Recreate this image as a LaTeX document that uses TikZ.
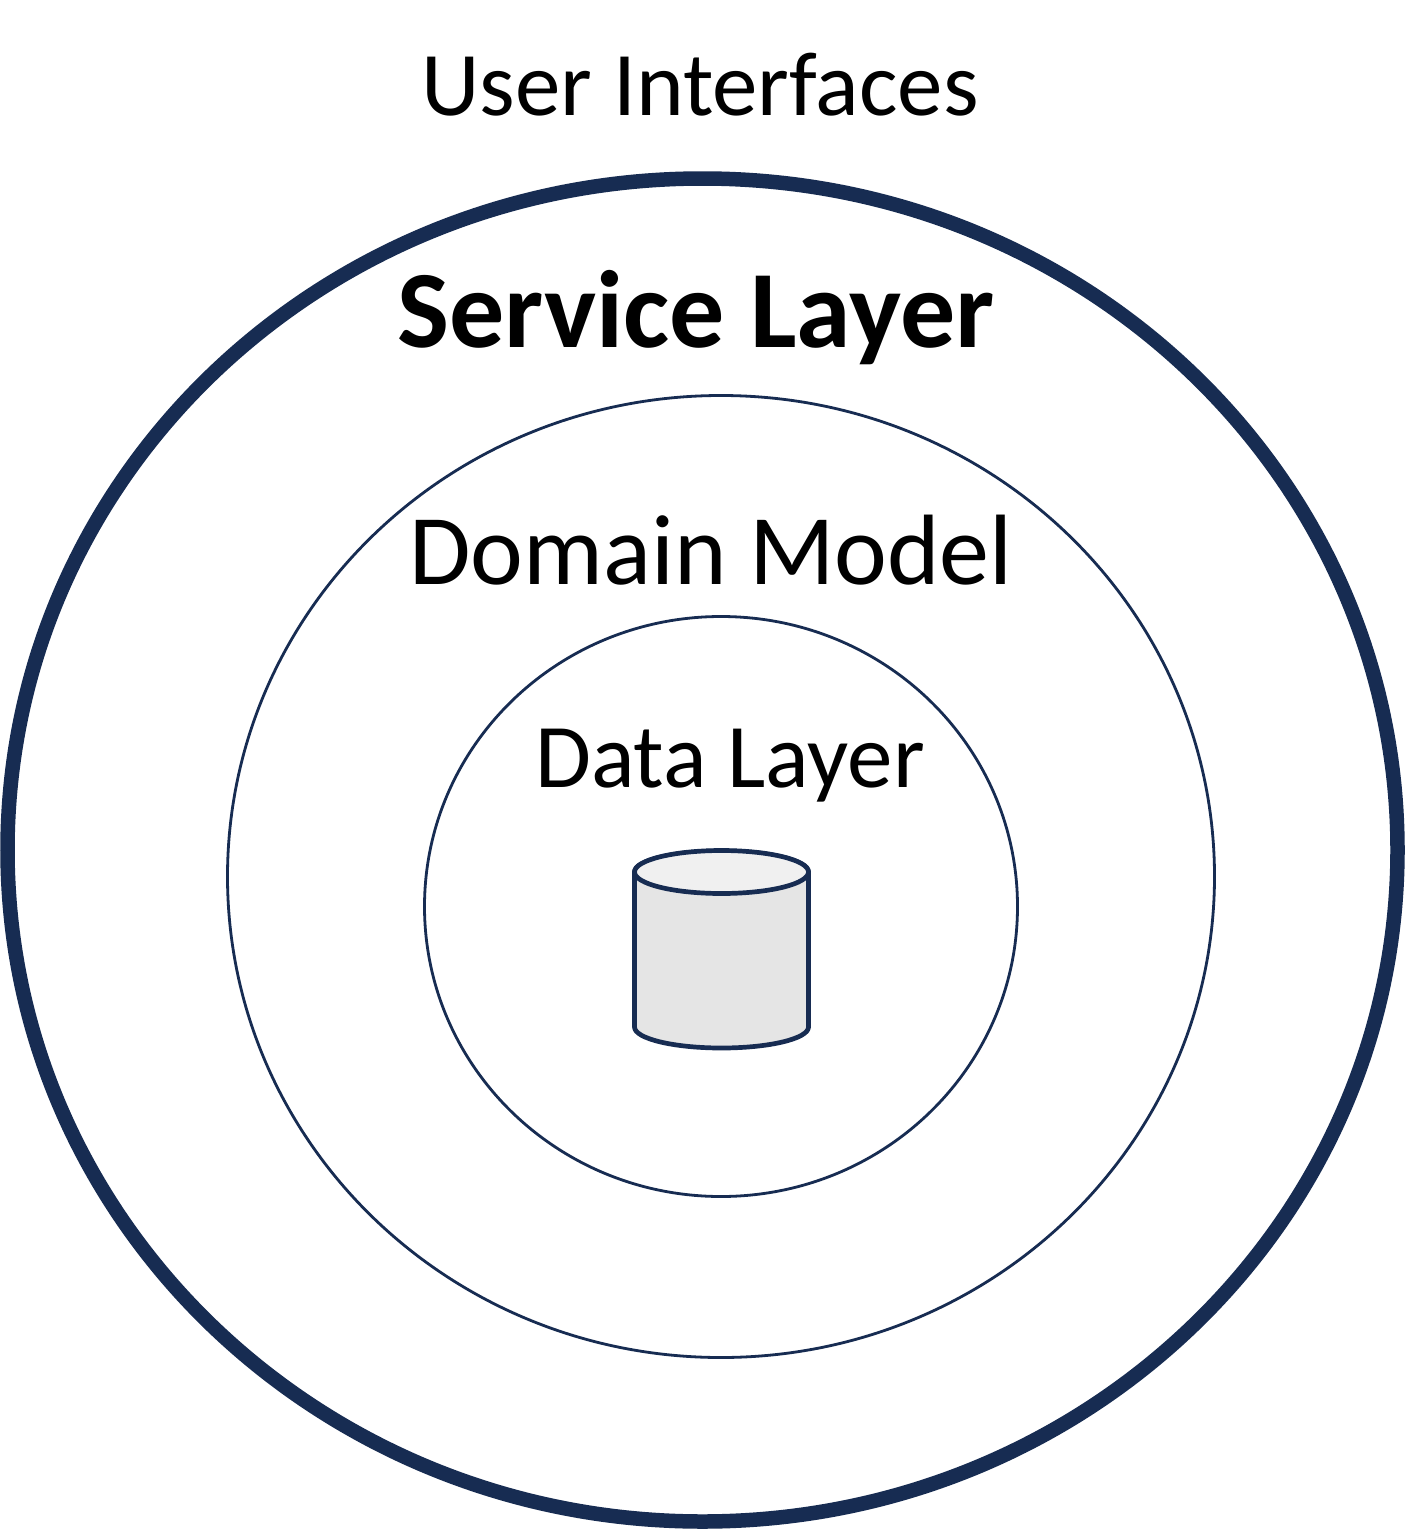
\documentclass[tikz,border=0pt]{standalone}
\usepackage{fontspec}
\setmainfont{Carlito}
\definecolor{navy}{HTML}{172C52}
\tikzset{
  outerring/.style={draw=navy,line width=14.5pt},
  innerring/.style={draw=navy,line width=2.8pt},
  cyl/.style={draw=navy,line width=4.7pt,line join=round},
  lbl/.style={inner sep=0pt,text=black,anchor=base}
}
\begin{document}
\begin{tikzpicture}[x=1pt,y=-1pt]
\useasboundingbox (0,0) rectangle (1406,1529);
\fill[white] (0,0) rectangle (1406,1529);
\draw[outerring] (702.5,850) ellipse [x radius=695, y radius=671.5];
\draw[innerring] (721,876.5) ellipse [x radius=493.5, y radius=481];
\draw[innerring] (721,906.5) ellipse [x radius=296.5, y radius=290];
\draw[cyl,fill=black!10] (634.5,872) -- (634.5,1027) arc[start angle=180,end angle=360,x radius=87,y radius=-21] -- (808.5,872) arc[start angle=0,end angle=180,x radius=87,y radius=-21] -- cycle;
\draw[cyl,fill=black!6] (721.5,872) ellipse [x radius=87, y radius=21.5];
\node[lbl,font=\fontsize{91}{100}\selectfont] (ui) at (700,115) {User Interfaces};
\node[lbl,font=\fontsize{110}{120}\selectfont\bfseries] (sl) at (696,347) {Service Layer};
\node[lbl,font=\fontsize{100}{110}\selectfont] (dm) at (711,584) {Domain Model};
\node[lbl,font=\fontsize{91}{100}\selectfont] (dl) at (730,787) {Data Layer};
\end{tikzpicture}
\end{document}
